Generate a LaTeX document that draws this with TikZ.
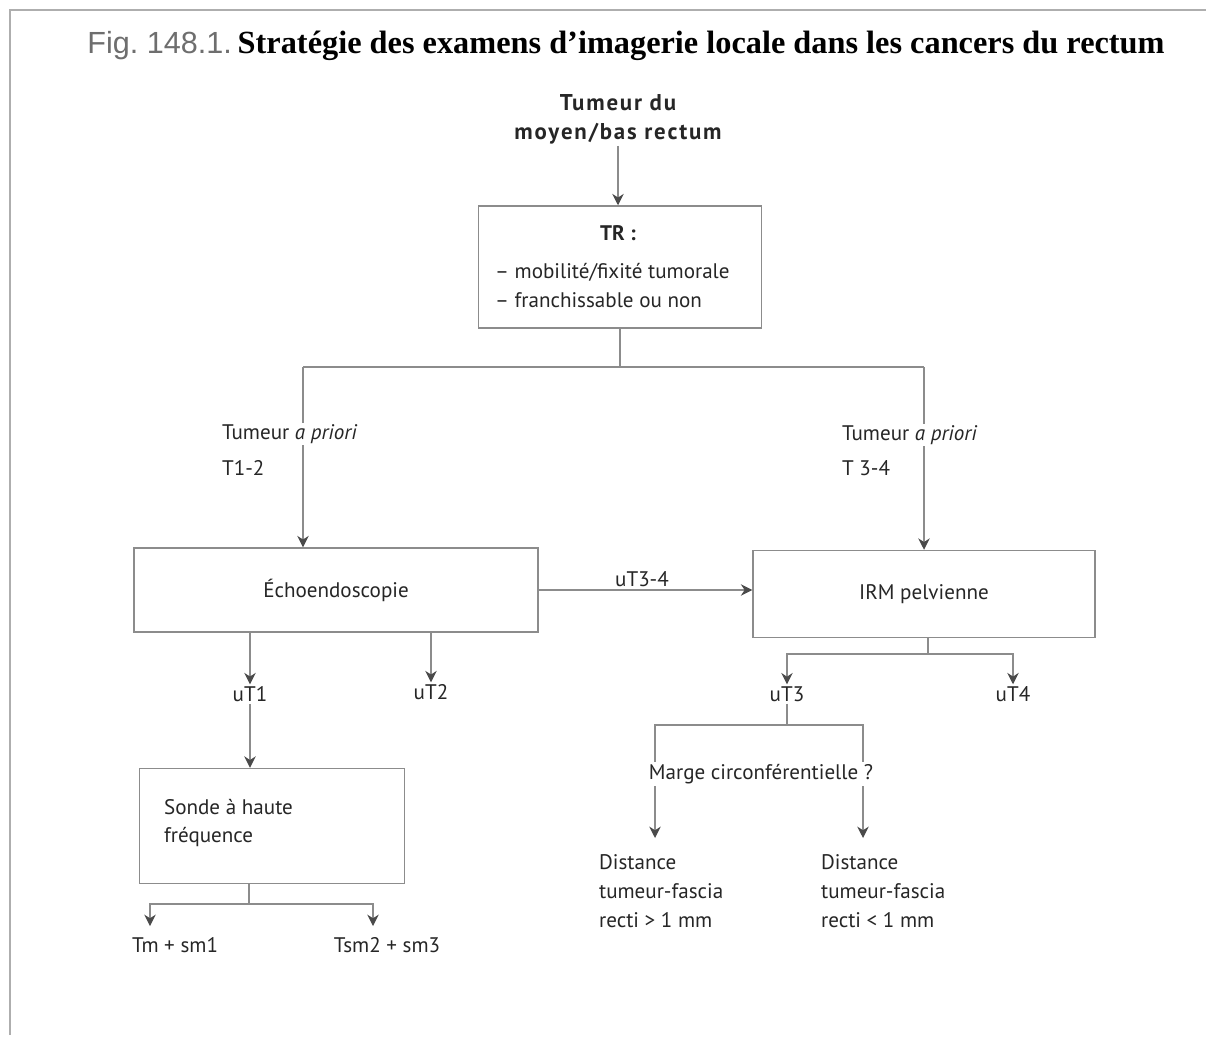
\documentclass[tikz,border=0pt]{standalone}
\usepackage{fontspec}
\setmainfont{Liberation Serif}
\setsansfont{PT Sans}
\newfontfamily\figfont{Liberation Sans}
\newfontfamily\startfont{PT Sans}[LetterSpace=8]
\usepackage{tikz}
\usetikzlibrary{arrows.meta, positioning}

\definecolor{linegray}{HTML}{8C8C8C}
\definecolor{tipgray}{HTML}{4A4A4A}
\definecolor{inkgray}{HTML}{262626}
\definecolor{figgray}{HTML}{6E6E6E}

\begin{document}
\begin{tikzpicture}[
  x=0.02cm, y=-0.02cm,
  >={Stealth[length=6.5pt, width=6.5pt, color=tipgray]},
  exambox/.style={draw=linegray, line width=0.85pt, inner sep=2pt,
    text=inkgray, font=\sffamily\fontsize{12}{16.5}\selectfont},
  conn/.style={draw=linegray, line width=0.75pt},
  label/.style={inner sep=1pt, text=inkgray, align=left,
    font=\sffamily\fontsize{12}{16.5}\selectfont}
]
\useasboundingbox (0,0) rectangle (1206,1041);

% page frame
\draw[linegray!70, line width=1pt] (10,1035) -- (10,10) -- (1206,10);

% title
\node[inner sep=0pt] (title) at (626,46)
  {{\figfont\fontsize{17.4}{20}\selectfont\color{figgray}Fig.~148.1.}
   {\fontsize{18.4}{21}\selectfont\bfseries Stratégie des examens d’imagerie locale dans les cancers du rectum}};

% start
\node[label, align=center, font=\startfont\bfseries\fontsize{13}{16.5}\selectfont] (start) at (618,119)
  {Tumeur du\\moyen/bas rectum};

% TR box
\node[exambox, minimum width=5.66cm, minimum height=2.44cm] (tr) at (620,267) {};
\node[label, font=\sffamily\bfseries\fontsize{12}{16.5}\selectfont] (trhead) at (618,233) {TR :};
\node[label, anchor=west] (trlist) at (493,286)
  {– mobilité/fixité tumorale\\– franchissable ou non};
\draw[conn, ->] (start) -- (tr.north -| start);

% Examens
\node[exambox, minimum width=8.08cm, minimum height=1.68cm] (echo) at (336,590) {Échoendoscopie};
\node[exambox, minimum width=6.84cm, minimum height=1.74cm] (irm) at (924,594) {IRM pelvienne};

% split after TR
\coordinate (brL) at (303,367);
\coordinate (brR) at (924,367);
\draw[conn] (tr.south) |- (brL);
\draw[conn] (tr.south) |- (brR);
\draw[conn, ->] (brL) -- (brL |- echo.north);
\draw[conn, ->] (brR) -- (brR |- irm.north);
\node[label, fill=white, anchor=west] (prioriL) at (220,434) {Tumeur \textit{a priori}};
\node[label, anchor=west] (t12) at (220,468) {T1-2};
\node[label, fill=white, anchor=west] (prioriR) at (840,435) {Tumeur \textit{a priori}};
\node[label, anchor=west] (t34) at (840,468) {T 3-4};

% echo -> IRM
\draw[conn, ->] (echo.east) -- (irm.west |- echo.east);
\node[label, anchor=south] (ut34) at (642,589) {uT3-4};

% under echoendoscopie
\node[label] (ut1) at (250,694) {uT1};
\node[label] (ut2) at (431,692) {uT2};
\draw[conn, ->] (echo.south -| ut1.north) -- (ut1.north);
\draw[conn, ->] (echo.south -| ut2.north) -- (ut2.north);

% Sonde
\node[exambox, minimum width=5.3cm, minimum height=2.3cm] (sonde) at (272,826) {};
\node[label, anchor=west] (sondetxt) at (162,823) {Sonde à haute\\fréquence};
\draw[conn, ->, line width=1.3pt] (ut1.south) -- (sonde.north -| ut1.south);

\coordinate (sondesplit) at (249,904);
\coordinate (tmtip) at (150,926);
\coordinate (tsmtip) at (373,926);
\draw[conn] (sonde.south -| sondesplit) -- (sondesplit);
\draw[conn, ->] (sondesplit) -| (tmtip);
\draw[conn, ->] (sondesplit) -| (tsmtip);
\node[label] (tm) at (175,945) {Tm + sm1};
\node[label] (tsm) at (387,945) {Tsm2 + sm3};

% under IRM
\node[label] (ut3) at (787,694) {uT3};
\node[label] (ut4) at (1013,694) {uT4};
\coordinate (irmsplit) at (928,654);
\draw[conn] (irm.south -| irmsplit) -- (irmsplit);
\draw[conn, ->] (irmsplit) -| (ut3.north);
\draw[conn, ->] (irmsplit) -| (ut4.north);

% marge circonferentielle
\coordinate (margesplit) at (787,725);
\coordinate (distLtip) at (655,838);
\coordinate (distRtip) at (863,838);
\draw[conn] (ut3.south) -- (margesplit);
\draw[conn, ->] (margesplit) -| (distLtip);
\draw[conn, ->] (margesplit) -| (distRtip);
\node[label, fill=white] (marge) at (761,774) {Marge circonférentielle ?};

\node[label, anchor=west] (distL) at (597,891)
  {Distance\\tumeur-fascia\\recti > 1 mm};
\node[label, anchor=west] (distR) at (819,891)
  {Distance\\tumeur-fascia\\recti < 1 mm};

\end{tikzpicture}
\end{document}
